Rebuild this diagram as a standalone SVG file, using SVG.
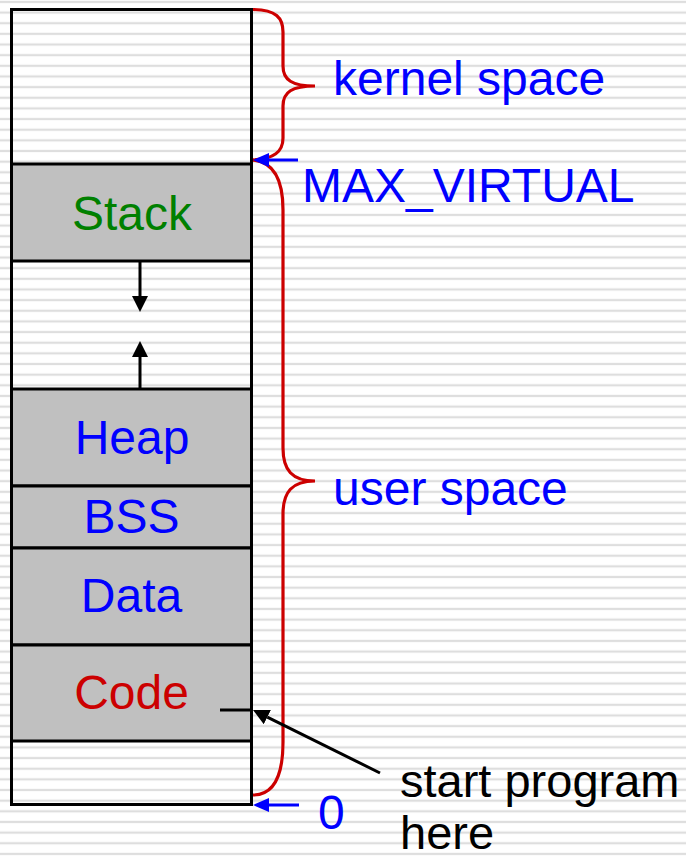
<svg xmlns="http://www.w3.org/2000/svg" width="686" height="858" viewBox="0 0 686 858">
  <defs>
    <pattern id="stripes" patternUnits="userSpaceOnUse" width="686" height="10.65">
      <rect x="0" y="0" width="686" height="10.65" fill="#ffffff"/>
      <rect x="0" y="0.8" width="686" height="2.2" fill="#dedede"/>
    </pattern>
    <marker id="ahBlack" viewBox="0 0 16 16" refX="0" refY="8" markerWidth="16" markerHeight="16" markerUnits="userSpaceOnUse" orient="auto">
      <path d="M0,0 L16,8 L0,16 z" fill="#000000"/>
    </marker>
    <marker id="ahBlue" viewBox="0 0 16 14" refX="0" refY="7" markerWidth="16" markerHeight="14" markerUnits="userSpaceOnUse" orient="auto">
      <path d="M0,0 L16,7 L0,14 z" fill="#0000ff"/>
    </marker>
  </defs>
  <style>
    text { font-family: "Liberation Sans", Arial, sans-serif; font-size: 48px; }
    .seg { fill: #c0c0c0; stroke: #000000; stroke-width: 3; }
    .mid { text-anchor: middle; }
    .blue { fill: #0000ff; }
    .black { fill: #000000; font-size: 47px; }
    .brace { fill: none; stroke: #cc0000; stroke-width: 3.2; }
    .bl { stroke: #000000; stroke-width: 3; fill: none; }
    .bu { stroke: #0000ff; stroke-width: 3; fill: none; }
  </style>
  <rect x="0" y="0" width="686" height="858" fill="url(#stripes)"/>

  <g id="column">
    <rect x="11.5" y="9.5" width="240" height="795" fill="none" stroke="#000000" stroke-width="3"/>
  </g>
  <g id="stack">
    <rect class="seg" x="11.5" y="164" width="240" height="97"/>
    <text class="mid" x="132" y="230" fill="#008000">Stack</text>
  </g>
  <g id="heap">
    <rect class="seg" x="11.5" y="389" width="240" height="97"/>
    <text class="mid blue" x="132" y="454">Heap</text>
  </g>
  <g id="bss">
    <rect class="seg" x="11.5" y="486" width="240" height="62"/>
    <text class="mid blue" x="131.5" y="533">BSS</text>
  </g>
  <g id="data">
    <rect class="seg" x="11.5" y="548" width="240" height="97"/>
    <text class="mid blue" x="131.5" y="612">Data</text>
  </g>
  <g id="code">
    <rect class="seg" x="11.5" y="645" width="240" height="96"/>
    <text class="mid" x="131.5" y="709" fill="#cc0000">Code</text>
  </g>

  <g id="kernel-space">
    <path class="brace" d="M253,9.5 C276,9.5 283,18 283,32 L283,66 C283,80 292,86 315,86 C292,86 283,92 283,106 L283,138 C283,152 274,159 253,160"/>
    <text class="blue" x="333" y="95">kernel space</text>
  </g>
  <g id="user-space">
    <path class="brace" d="M253,160 C274,162 283,180 283,210 L283,448 C283,470 292,481 315,481 C292,481 283,492 283,514 L283,742 C283,778 272,795 253,795"/>
    <text class="blue" x="333" y="505">user space</text>
  </g>
  <g id="max-virtual">
    <text class="blue" x="302" y="202">MAX_VIRTUAL</text>
  </g>
  <g id="zero">
    <text class="blue" x="318" y="829">0</text>
  </g>
  <g id="start-label">
    <text class="black" x="400" y="797">start program</text>
    <text class="black" x="400" y="849">here</text>
  </g>

  <g id="connectors">
    <line class="bl" x1="140" y1="261" x2="140" y2="296" marker-end="url(#ahBlack)"/>
    <line class="bl" x1="140" y1="389" x2="140" y2="357" marker-end="url(#ahBlack)"/>
    <line class="bu" x1="298" y1="160" x2="269" y2="160" marker-end="url(#ahBlue)"/>
    <line class="bu" x1="299" y1="805" x2="269" y2="805" marker-end="url(#ahBlue)"/>
    <line class="bl" x1="220" y1="710" x2="253" y2="710"/>
    <line class="bl" stroke-width="2.5" x1="380" y1="773" x2="267.3" y2="717.1" marker-end="url(#ahBlack)"/>
  </g>
</svg>
